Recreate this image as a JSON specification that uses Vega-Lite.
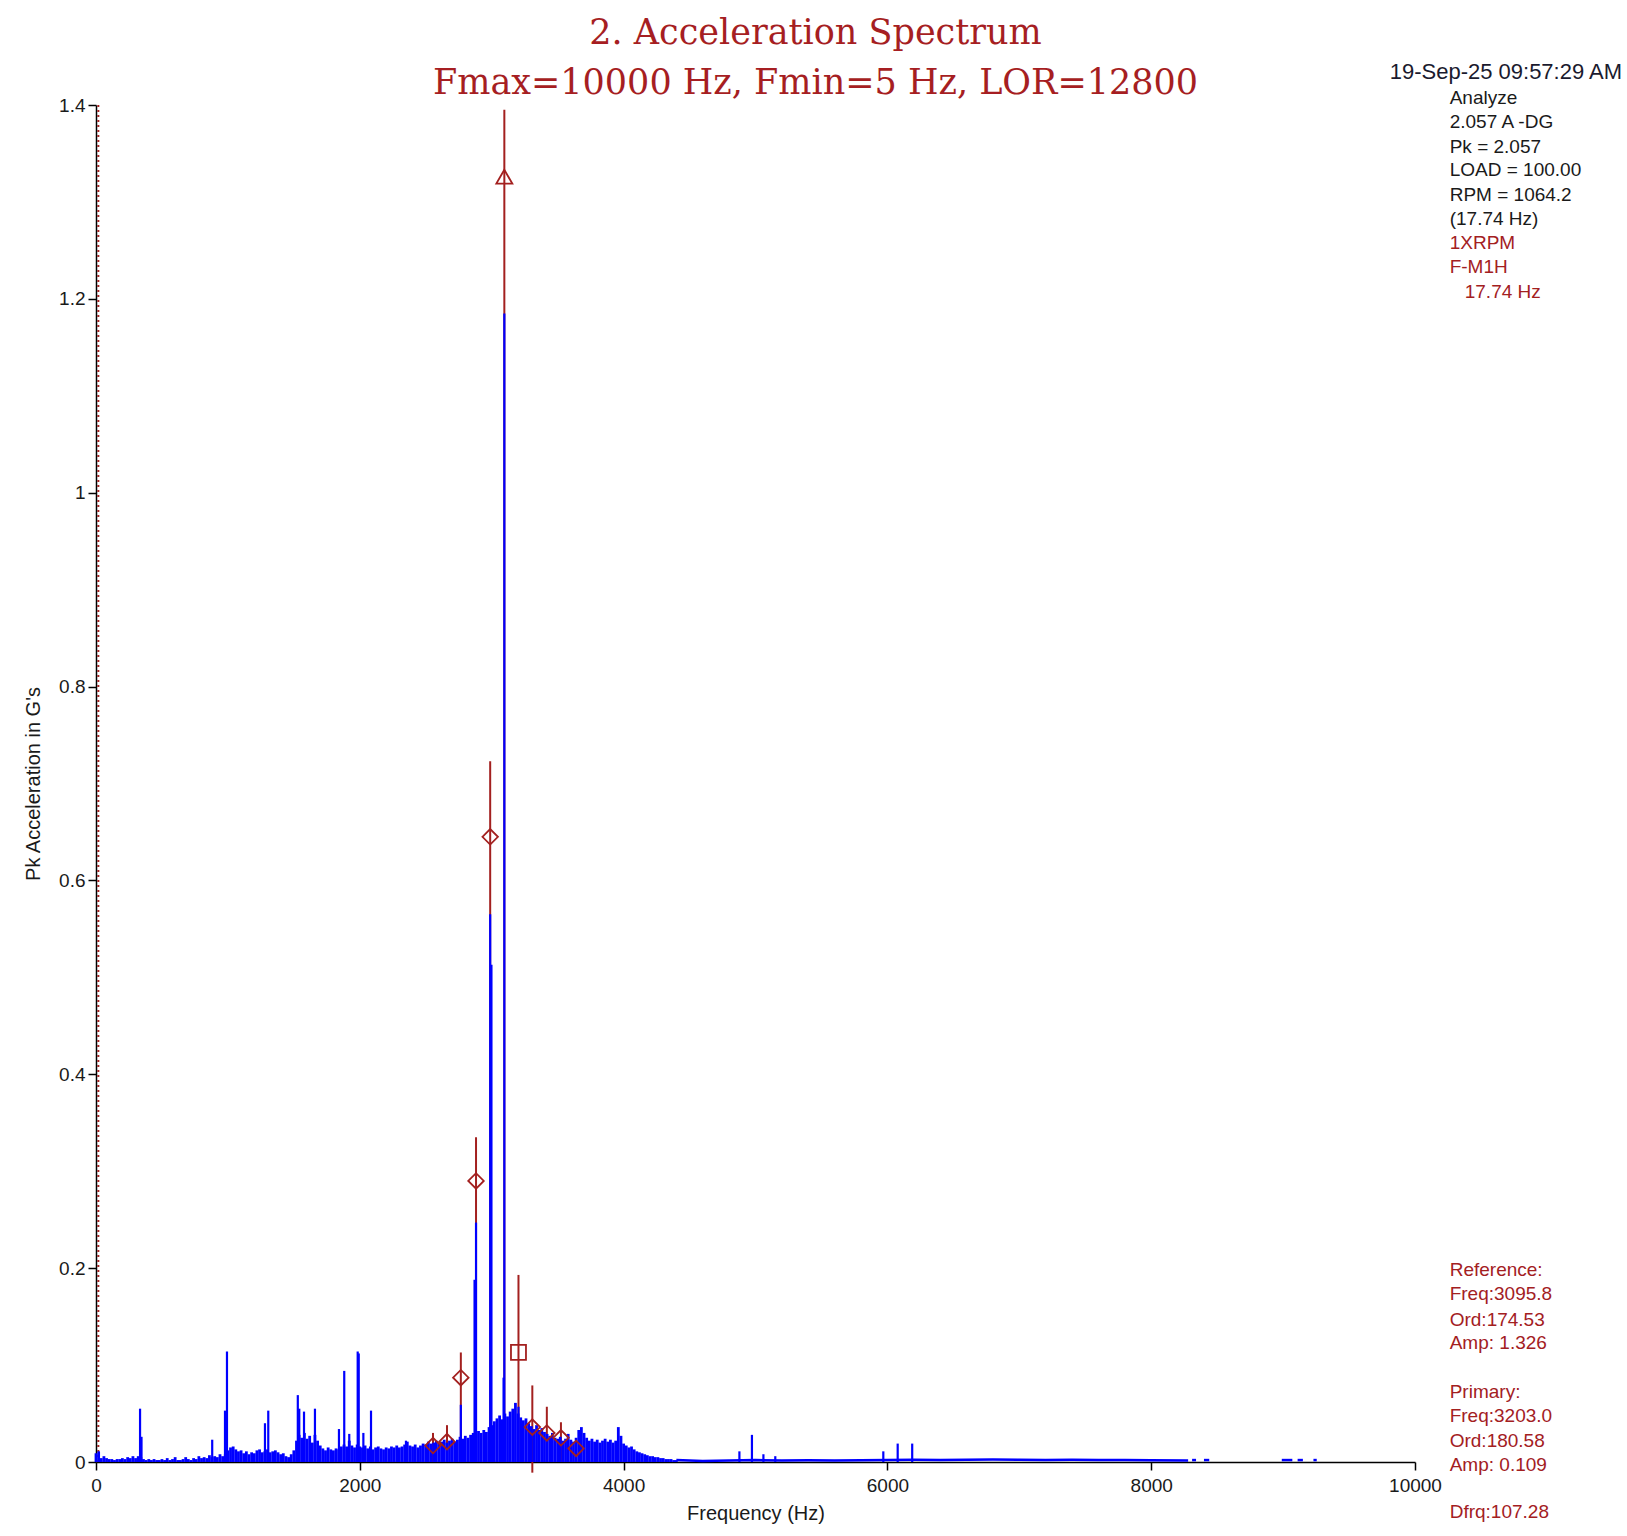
{
  "$schema": "https://vega.github.io/schema/vega-lite/v6.json",
  "autosize": {"type": "none"},
  "padding": {"left": 96, "top": 105, "right": 212, "bottom": 74},
  "width": 1319,
  "height": 1357,
  "background": "white",
  "title": {
    "text": ["2. Acceleration Spectrum", "Fmax=10000 Hz, Fmin=5 Hz, LOR=12800"],
    "font": "DejaVu Serif",
    "fontSize": 35,
    "fontWeight": "normal",
    "color": "#a61e22",
    "lineHeight": 50,
    "anchor": "middle",
    "frame": "group",
    "dx": 60,
    "dy": 44,
    "offset": 4
  },
  "datasets": {
    "noise": [
      {"f": 0, "a": 0.009}, {"f": 20, "a": 0.011}, {"f": 40, "a": 0.004}, {"f": 60, "a": 0.006}, {"f": 80, "a": 0.004},
      {"f": 100, "a": 0.003}, {"f": 120, "a": 0.003}, {"f": 140, "a": 0.002}, {"f": 160, "a": 0.003}, {"f": 180, "a": 0.003},
      {"f": 200, "a": 0.004}, {"f": 220, "a": 0.003}, {"f": 240, "a": 0.005}, {"f": 260, "a": 0.004}, {"f": 280, "a": 0.006},
      {"f": 300, "a": 0.004}, {"f": 320, "a": 0.006}, {"f": 340, "a": 0.005}, {"f": 360, "a": 0.003}, {"f": 380, "a": 0.002},
      {"f": 400, "a": 0.003}, {"f": 420, "a": 0.002}, {"f": 440, "a": 0.003}, {"f": 460, "a": 0.002}, {"f": 480, "a": 0.002},
      {"f": 500, "a": 0.003}, {"f": 520, "a": 0.002}, {"f": 540, "a": 0.004}, {"f": 560, "a": 0.002}, {"f": 580, "a": 0.003},
      {"f": 600, "a": 0.005}, {"f": 620, "a": 0.002}, {"f": 640, "a": 0.002}, {"f": 660, "a": 0.003}, {"f": 680, "a": 0.005},
      {"f": 700, "a": 0.003}, {"f": 720, "a": 0.002}, {"f": 740, "a": 0.004}, {"f": 760, "a": 0.003}, {"f": 780, "a": 0.006},
      {"f": 800, "a": 0.004}, {"f": 820, "a": 0.005}, {"f": 840, "a": 0.004}, {"f": 860, "a": 0.007}, {"f": 880, "a": 0.005},
      {"f": 900, "a": 0.006}, {"f": 920, "a": 0.005}, {"f": 940, "a": 0.008}, {"f": 960, "a": 0.006}, {"f": 980, "a": 0.008},
      {"f": 1000, "a": 0.012}, {"f": 1020, "a": 0.015}, {"f": 1040, "a": 0.016}, {"f": 1060, "a": 0.013}, {"f": 1080, "a": 0.011},
      {"f": 1100, "a": 0.012}, {"f": 1120, "a": 0.009}, {"f": 1140, "a": 0.011}, {"f": 1160, "a": 0.008}, {"f": 1180, "a": 0.010},
      {"f": 1200, "a": 0.009}, {"f": 1220, "a": 0.012}, {"f": 1240, "a": 0.013}, {"f": 1260, "a": 0.010}, {"f": 1280, "a": 0.011},
      {"f": 1300, "a": 0.013}, {"f": 1320, "a": 0.010}, {"f": 1340, "a": 0.011}, {"f": 1360, "a": 0.012}, {"f": 1380, "a": 0.010},
      {"f": 1400, "a": 0.008}, {"f": 1420, "a": 0.009}, {"f": 1440, "a": 0.006}, {"f": 1460, "a": 0.005}, {"f": 1480, "a": 0.008},
      {"f": 1500, "a": 0.012}, {"f": 1520, "a": 0.022}, {"f": 1540, "a": 0.028}, {"f": 1560, "a": 0.025}, {"f": 1580, "a": 0.030},
      {"f": 1600, "a": 0.024}, {"f": 1620, "a": 0.027}, {"f": 1640, "a": 0.020}, {"f": 1660, "a": 0.028}, {"f": 1680, "a": 0.022},
      {"f": 1700, "a": 0.017}, {"f": 1720, "a": 0.014}, {"f": 1740, "a": 0.012}, {"f": 1760, "a": 0.015}, {"f": 1780, "a": 0.013},
      {"f": 1800, "a": 0.012}, {"f": 1820, "a": 0.014}, {"f": 1840, "a": 0.013}, {"f": 1860, "a": 0.016}, {"f": 1880, "a": 0.018},
      {"f": 1900, "a": 0.016}, {"f": 1920, "a": 0.022}, {"f": 1940, "a": 0.017}, {"f": 1960, "a": 0.015}, {"f": 1980, "a": 0.018},
      {"f": 2000, "a": 0.016}, {"f": 2020, "a": 0.015}, {"f": 2040, "a": 0.017}, {"f": 2060, "a": 0.014}, {"f": 2080, "a": 0.016},
      {"f": 2100, "a": 0.013}, {"f": 2120, "a": 0.015}, {"f": 2140, "a": 0.016}, {"f": 2160, "a": 0.014}, {"f": 2180, "a": 0.013},
      {"f": 2200, "a": 0.015}, {"f": 2220, "a": 0.014}, {"f": 2240, "a": 0.016}, {"f": 2260, "a": 0.015}, {"f": 2280, "a": 0.017},
      {"f": 2300, "a": 0.015}, {"f": 2320, "a": 0.016}, {"f": 2340, "a": 0.018}, {"f": 2360, "a": 0.021}, {"f": 2380, "a": 0.017},
      {"f": 2400, "a": 0.016}, {"f": 2420, "a": 0.018}, {"f": 2440, "a": 0.015}, {"f": 2460, "a": 0.017}, {"f": 2480, "a": 0.019},
      {"f": 2500, "a": 0.018}, {"f": 2520, "a": 0.021}, {"f": 2540, "a": 0.019}, {"f": 2560, "a": 0.020}, {"f": 2580, "a": 0.022},
      {"f": 2600, "a": 0.019}, {"f": 2620, "a": 0.021}, {"f": 2640, "a": 0.023}, {"f": 2660, "a": 0.020}, {"f": 2680, "a": 0.022},
      {"f": 2700, "a": 0.024}, {"f": 2720, "a": 0.021}, {"f": 2740, "a": 0.023}, {"f": 2760, "a": 0.026}, {"f": 2780, "a": 0.024},
      {"f": 2800, "a": 0.027}, {"f": 2820, "a": 0.025}, {"f": 2840, "a": 0.028}, {"f": 2860, "a": 0.030}, {"f": 2880, "a": 0.029},
      {"f": 2900, "a": 0.032}, {"f": 2920, "a": 0.030}, {"f": 2940, "a": 0.033}, {"f": 2960, "a": 0.031}, {"f": 2980, "a": 0.036},
      {"f": 3000, "a": 0.038}, {"f": 3020, "a": 0.042}, {"f": 3040, "a": 0.045}, {"f": 3060, "a": 0.048}, {"f": 3080, "a": 0.044},
      {"f": 3100, "a": 0.050}, {"f": 3120, "a": 0.047}, {"f": 3140, "a": 0.052}, {"f": 3160, "a": 0.055}, {"f": 3180, "a": 0.061},
      {"f": 3200, "a": 0.050}, {"f": 3220, "a": 0.046}, {"f": 3240, "a": 0.043}, {"f": 3260, "a": 0.045}, {"f": 3280, "a": 0.040},
      {"f": 3300, "a": 0.037}, {"f": 3320, "a": 0.034}, {"f": 3340, "a": 0.038}, {"f": 3360, "a": 0.033}, {"f": 3380, "a": 0.035},
      {"f": 3400, "a": 0.031}, {"f": 3420, "a": 0.029}, {"f": 3440, "a": 0.027}, {"f": 3460, "a": 0.030}, {"f": 3480, "a": 0.025},
      {"f": 3500, "a": 0.024}, {"f": 3520, "a": 0.026}, {"f": 3540, "a": 0.022}, {"f": 3560, "a": 0.024}, {"f": 3580, "a": 0.029},
      {"f": 3600, "a": 0.023}, {"f": 3620, "a": 0.021}, {"f": 3640, "a": 0.025}, {"f": 3660, "a": 0.033}, {"f": 3680, "a": 0.036},
      {"f": 3700, "a": 0.030}, {"f": 3720, "a": 0.025}, {"f": 3740, "a": 0.022}, {"f": 3760, "a": 0.024}, {"f": 3780, "a": 0.021},
      {"f": 3800, "a": 0.023}, {"f": 3820, "a": 0.020}, {"f": 3840, "a": 0.022}, {"f": 3860, "a": 0.024}, {"f": 3880, "a": 0.021},
      {"f": 3900, "a": 0.023}, {"f": 3920, "a": 0.020}, {"f": 3940, "a": 0.022}, {"f": 3960, "a": 0.036}, {"f": 3980, "a": 0.027},
      {"f": 4000, "a": 0.019}, {"f": 4020, "a": 0.017}, {"f": 4040, "a": 0.015}, {"f": 4060, "a": 0.016}, {"f": 4080, "a": 0.013},
      {"f": 4100, "a": 0.011}, {"f": 4120, "a": 0.010}, {"f": 4140, "a": 0.009}, {"f": 4160, "a": 0.008}, {"f": 4180, "a": 0.007},
      {"f": 4200, "a": 0.006}, {"f": 4220, "a": 0.006}, {"f": 4240, "a": 0.005}, {"f": 4260, "a": 0.005}, {"f": 4280, "a": 0.004},
      {"f": 4300, "a": 0.004}, {"f": 4320, "a": 0.003}, {"f": 4340, "a": 0.003}, {"f": 4360, "a": 0.003}, {"f": 4380, "a": 0.002},
      {"f": 4400, "a": 0.002}
    ],
    "peaks": [
      {"f": 334, "a": 0.055}, {"f": 345, "a": 0.026}, {"f": 881, "a": 0.023}, {"f": 978, "a": 0.053}, {"f": 993, "a": 0.114},
      {"f": 1281, "a": 0.040}, {"f": 1306, "a": 0.053}, {"f": 1530, "a": 0.069}, {"f": 1541, "a": 0.055}, {"f": 1577, "a": 0.052},
      {"f": 1660, "a": 0.055}, {"f": 1842, "a": 0.034}, {"f": 1882, "a": 0.094}, {"f": 1920, "a": 0.029}, {"f": 1984, "a": 0.114},
      {"f": 1992, "a": 0.112}, {"f": 2027, "a": 0.030}, {"f": 2085, "a": 0.053}, {"f": 2350, "a": 0.022}, {"f": 2766, "a": 0.059},
      {"f": 2870, "a": 0.188}, {"f": 2881.2, "a": 0.247}, {"f": 2988.5, "a": 0.565}, {"f": 2998, "a": 0.513}, {"f": 3090, "a": 0.087},
      {"f": 3095.8, "a": 1.185}, {"f": 3203, "a": 0.057}, {"f": 4878, "a": 0.011}, {"f": 4973, "a": 0.028}, {"f": 5060, "a": 0.008},
      {"f": 5150, "a": 0.006}, {"f": 5969, "a": 0.011}, {"f": 6078, "a": 0.019}, {"f": 6188, "a": 0.019}
    ],
    "floor": [
      {"f": 4400, "a": 0.002, "seg": 1}, {"f": 4500, "a": 0.0015, "seg": 1}, {"f": 4600, "a": 0.001, "seg": 1},
      {"f": 4800, "a": 0.0015, "seg": 1}, {"f": 5000, "a": 0.002, "seg": 1}, {"f": 5200, "a": 0.0015, "seg": 1},
      {"f": 5400, "a": 0.0018, "seg": 1}, {"f": 5600, "a": 0.0015, "seg": 1}, {"f": 5800, "a": 0.0018, "seg": 1},
      {"f": 6000, "a": 0.002, "seg": 1}, {"f": 6200, "a": 0.0022, "seg": 1}, {"f": 6400, "a": 0.002, "seg": 1},
      {"f": 6600, "a": 0.0022, "seg": 1}, {"f": 6800, "a": 0.0025, "seg": 1}, {"f": 7000, "a": 0.0022, "seg": 1},
      {"f": 7200, "a": 0.002, "seg": 1}, {"f": 7400, "a": 0.0022, "seg": 1}, {"f": 7600, "a": 0.002, "seg": 1},
      {"f": 7800, "a": 0.002, "seg": 1}, {"f": 8000, "a": 0.0018, "seg": 1}, {"f": 8280, "a": 0.0015, "seg": 1},
      {"f": 8310, "a": 0.002, "seg": 2}, {"f": 8340, "a": 0.002, "seg": 2},
      {"f": 8400, "a": 0.002, "seg": 3}, {"f": 8440, "a": 0.002, "seg": 3},
      {"f": 8990, "a": 0.002, "seg": 4}, {"f": 9070, "a": 0.002, "seg": 4},
      {"f": 9110, "a": 0.002, "seg": 5}, {"f": 9150, "a": 0.002, "seg": 5},
      {"f": 9230, "a": 0.002, "seg": 6}, {"f": 9255, "a": 0.002, "seg": 6}
    ],
    "markers": [
      {"f": 3095.8, "amp": 1.326, "lo": 0, "hi": 1.395, "type": "reference"},
      {"f": 2988.5, "amp": 0.645, "lo": 0, "hi": 0.723, "type": "harmonic"},
      {"f": 2881.2, "amp": 0.29, "lo": 0, "hi": 0.335, "type": "harmonic"},
      {"f": 2766, "amp": 0.087, "lo": 0, "hi": 0.113, "type": "harmonic"},
      {"f": 2661, "amp": 0.021, "lo": 0, "hi": 0.038, "type": "harmonic"},
      {"f": 2555, "amp": 0.017, "lo": 0, "hi": 0.03, "type": "harmonic"},
      {"f": 3203, "amp": 0.113, "lo": 0, "hi": 0.193, "type": "primary"},
      {"f": 3308, "amp": 0.036, "lo": -0.011, "hi": 0.079, "type": "harmonic"},
      {"f": 3418, "amp": 0.03, "lo": 0, "hi": 0.057, "type": "harmonic"},
      {"f": 3525, "amp": 0.025, "lo": 0, "hi": 0.041, "type": "harmonic"},
      {"f": 3640, "amp": 0.014, "lo": 0, "hi": 0.023, "type": "harmonic"}
    ],
    "notes": [
      {"f": 11570, "a": 1.434, "text": "19-Sep-25 09:57:29 AM", "kind": "stamp"},
      {"f": 10263, "a": 1.407, "text": "Analyze", "kind": "info"},
      {"f": 10263, "a": 1.382, "text": "2.057 A -DG", "kind": "info"},
      {"f": 10263, "a": 1.357, "text": "Pk = 2.057", "kind": "info"},
      {"f": 10263, "a": 1.333, "text": "LOAD = 100.00", "kind": "info"},
      {"f": 10263, "a": 1.307, "text": "RPM = 1064.2", "kind": "info"},
      {"f": 10263, "a": 1.282, "text": "(17.74 Hz)", "kind": "info"},
      {"f": 10263, "a": 1.258, "text": "1XRPM", "kind": "marker"},
      {"f": 10263, "a": 1.233, "text": "F-M1H", "kind": "marker"},
      {"f": 10377, "a": 1.207, "text": "17.74 Hz", "kind": "marker"},
      {"f": 10263, "a": 0.198, "text": "Reference:", "kind": "marker"},
      {"f": 10263, "a": 0.173, "text": "Freq:3095.8", "kind": "marker"},
      {"f": 10263, "a": 0.147, "text": "Ord:174.53", "kind": "marker"},
      {"f": 10263, "a": 0.123, "text": "Amp: 1.326", "kind": "marker"},
      {"f": 10263, "a": 0.072, "text": "Primary:", "kind": "marker"},
      {"f": 10263, "a": 0.047, "text": "Freq:3203.0", "kind": "marker"},
      {"f": 10263, "a": 0.022, "text": "Ord:180.58", "kind": "marker"},
      {"f": 10263, "a": -0.003, "text": "Amp: 0.109", "kind": "marker"},
      {"f": 10263, "a": -0.052, "text": "Dfrq:107.28", "kind": "marker"}
    ]
  },
  "encoding": {
    "x": {
      "type": "quantitative",
      "scale": {"domain": [0, 10000], "nice": false},
      "axis": {
        "title": "Frequency (Hz)",
        "values": [0, 2000, 4000, 6000, 8000, 10000],
        "format": "d",
        "labelFlush": false,
        "labelPadding": 6,
        "titlePadding": 8
      }
    },
    "y": {
      "type": "quantitative",
      "scale": {"domain": [0, 1.4], "nice": false},
      "axis": {
        "title": "Pk Acceleration in G's",
        "values": [0, 0.2, 0.4, 0.6, 0.8, 1, 1.2, 1.4],
        "format": "~g",
        "labelFlush": false,
        "labelPadding": 3,
        "titlePadding": 15
      }
    }
  },
  "layer": [
    {
      "data": {"name": "markers"},
      "mark": {"type": "rule", "color": "#a3201f", "strokeWidth": 2},
      "encoding": {
        "x": {"field": "f"},
        "y": {"field": "lo"},
        "y2": {"field": "hi"}
      }
    },
    {
      "data": {"values": [{"rpm": 17.74}]},
      "mark": {"type": "rule", "color": "#a3201f", "strokeWidth": 2, "strokeDash": [2, 3]},
      "encoding": {
        "x": {"field": "rpm"},
        "y": {"datum": 0},
        "y2": {"datum": 1.4}
      }
    },
    {
      "data": {"name": "noise"},
      "mark": {"type": "rule", "color": "#0000ff", "strokeWidth": 2.8},
      "encoding": {
        "x": {"field": "f"},
        "y": {"field": "a"},
        "y2": {"datum": 0}
      }
    },
    {
      "data": {"name": "peaks"},
      "mark": {"type": "rule", "color": "#0000ff", "strokeWidth": 2.2},
      "encoding": {
        "x": {"field": "f"},
        "y": {"field": "a"},
        "y2": {"datum": 0}
      }
    },
    {
      "data": {"name": "floor"},
      "mark": {"type": "line", "color": "#0000ff", "strokeWidth": 2.5},
      "encoding": {
        "x": {"field": "f"},
        "y": {"field": "a"},
        "detail": {"field": "seg", "type": "nominal"}
      }
    },
    {
      "data": {"name": "markers"},
      "mark": {"type": "point", "filled": false, "stroke": "#a3201f", "strokeWidth": 1.8, "opacity": 1},
      "encoding": {
        "x": {"field": "f"},
        "y": {"field": "amp"},
        "shape": {
          "field": "type",
          "type": "nominal",
          "scale": {"domain": ["reference", "harmonic", "primary"], "range": ["triangle-up", "diamond", "square"]},
          "legend": null
        },
        "size": {
          "field": "type",
          "type": "nominal",
          "scale": {"domain": ["reference", "harmonic", "primary"], "range": [256, 225, 169]},
          "legend": null
        }
      }
    },
    {
      "data": {"name": "notes"},
      "transform": [{"filter": "datum.kind == 'stamp'"}],
      "mark": {"type": "text", "align": "right", "baseline": "middle", "font": "Liberation Sans", "fontSize": 22, "color": "#1a1a2e"},
      "encoding": {
        "x": {"field": "f"},
        "y": {"field": "a"},
        "text": {"field": "text"}
      }
    },
    {
      "data": {"name": "notes"},
      "transform": [{"filter": "datum.kind != 'stamp'"}],
      "mark": {"type": "text", "align": "left", "baseline": "middle", "font": "Liberation Sans", "fontSize": 19},
      "encoding": {
        "x": {"field": "f"},
        "y": {"field": "a"},
        "text": {"field": "text"},
        "color": {
          "field": "kind",
          "type": "nominal",
          "scale": {"domain": ["info", "marker"], "range": ["#1a1a1a", "#a3201f"]},
          "legend": null
        }
      }
    }
  ],
  "config": {
    "view": {"stroke": null},
    "axis": {
      "grid": false,
      "domainColor": "#000000",
      "domainWidth": 1.5,
      "tickColor": "#000000",
      "tickSize": 8,
      "tickWidth": 1.5,
      "labelFont": "Liberation Sans",
      "labelFontSize": 19,
      "labelColor": "#1a1a1a",
      "titleFont": "Liberation Sans",
      "titleFontSize": 20,
      "titleFontWeight": "normal",
      "titleColor": "#1a1a1a"
    }
  }
}
